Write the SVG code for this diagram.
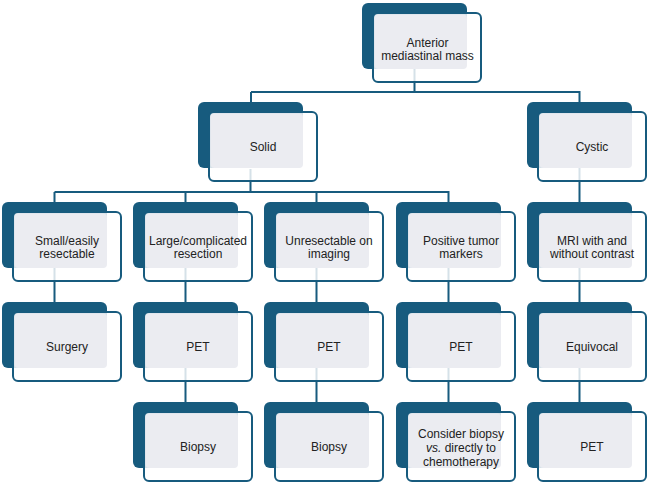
<svg xmlns="http://www.w3.org/2000/svg" xmlns:xlink="http://www.w3.org/1999/xlink" width="649" height="483" viewBox="0 0 649 483">
<style>
.bg{fill:#ffffff}
.back{fill:#175b7e}
.front{fill:#ffffff;fill-opacity:0.82;stroke:#175b7e;stroke-width:2}
.inner{fill:#ebecf1}
.lbl{font-family:"Liberation Sans",Arial,sans-serif;font-size:12px;fill:#222222;text-anchor:middle}
.conn{fill:none;stroke:#175b7e;stroke-width:2}
</style>
<defs>
<g id="node">
<rect class="back" x="0" y="0" width="105" height="66" rx="6"/>
<rect class="front" x="11" y="10" width="108" height="69" rx="5"/>
<rect class="inner" x="12.5" y="11.5" width="92.5" height="54.5" rx="4"/>
</g>
</defs>
<rect class="bg" x="0" y="0" width="649" height="483"/>
<g id="connectors">
<path class="conn" d="M414.5 69V92M251 92H580.5M251 92V102M579.5 92V102"/>
<path class="conn" d="M250.5 169V192M54.5 192H449.5M54.5 192V202M185.5 192V202M316.5 192V202M448.5 192V202"/>
<path class="conn" d="M579.5 168V202"/>
<path class="conn" d="M54.5 268V302M185.5 268V302M316.5 268V302M448.5 268V302M579.5 268V302"/>
<path class="conn" d="M185.5 368V402M316.5 368V402M448.5 368V402M579.5 368V402"/>
</g>
<g id="n-anterior" transform="translate(362,3)"><use xlink:href="#node"/><text class="lbl" x="65.5" y="44">Anterior</text><text class="lbl" x="65.5" y="56.5">mediastinal mass</text></g>
<g id="n-solid" transform="translate(198,102)"><use xlink:href="#node"/><text class="lbl" x="65" y="49">Solid</text></g>
<g id="n-cystic" transform="translate(527,102)"><use xlink:href="#node"/><text class="lbl" x="65" y="49">Cystic</text></g>
<g id="n-small" transform="translate(2,202)"><use xlink:href="#node"/><text class="lbl" x="65" y="43">Small/easily</text><text class="lbl" x="65" y="55.5">resectable</text></g>
<g id="n-large" transform="translate(133,202)"><use xlink:href="#node"/><text class="lbl" x="65" y="43">Large/complicated</text><text class="lbl" x="65" y="55.5">resection</text></g>
<g id="n-unres" transform="translate(264,202)"><use xlink:href="#node"/><text class="lbl" x="65" y="43">Unresectable on</text><text class="lbl" x="65" y="55.5">imaging</text></g>
<g id="n-markers" transform="translate(396,202)"><use xlink:href="#node"/><text class="lbl" x="65" y="43">Positive tumor</text><text class="lbl" x="65" y="55.5">markers</text></g>
<g id="n-mri" transform="translate(527,202)"><use xlink:href="#node"/><text class="lbl" x="65" y="43">MRI with and</text><text class="lbl" x="65" y="55.5">without contrast</text></g>
<g id="n-surgery" transform="translate(2,302)"><use xlink:href="#node"/><text class="lbl" x="65" y="49">Surgery</text></g>
<g id="n-pet1" transform="translate(133,302)"><use xlink:href="#node"/><text class="lbl" x="65" y="49">PET</text></g>
<g id="n-pet2" transform="translate(264,302)"><use xlink:href="#node"/><text class="lbl" x="65" y="49">PET</text></g>
<g id="n-pet3" transform="translate(396,302)"><use xlink:href="#node"/><text class="lbl" x="65" y="49">PET</text></g>
<g id="n-equivocal" transform="translate(527,302)"><use xlink:href="#node"/><text class="lbl" x="65" y="49">Equivocal</text></g>
<g id="n-biopsy1" transform="translate(133,402)"><use xlink:href="#node"/><text class="lbl" x="65" y="49">Biopsy</text></g>
<g id="n-biopsy2" transform="translate(264,402)"><use xlink:href="#node"/><text class="lbl" x="65" y="49">Biopsy</text></g>
<g id="n-consider" transform="translate(396,402)"><use xlink:href="#node"/><text class="lbl" x="65" y="35.5">Consider biopsy</text><text class="lbl" x="65" y="49.5"><tspan font-style="italic">vs.</tspan> directly to</text><text class="lbl" x="65" y="63.5">chemotherapy</text></g>
<g id="n-pet4" transform="translate(527,402)"><use xlink:href="#node"/><text class="lbl" x="65" y="49">PET</text></g>
</svg>
